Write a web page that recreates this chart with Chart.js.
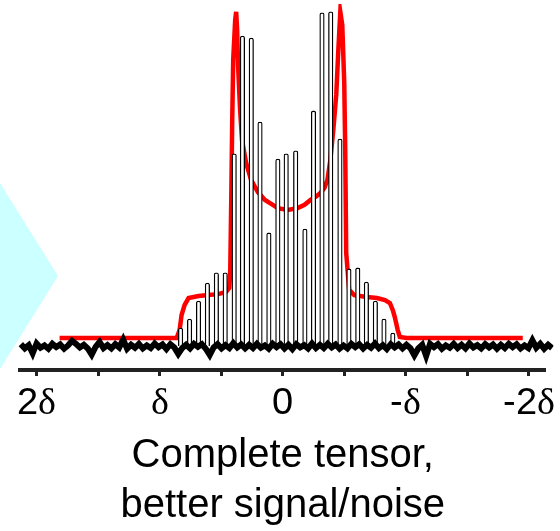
<!DOCTYPE html>
<html>
<head>
<meta charset="utf-8">
<script src="https://cdn.jsdelivr.net/npm/chart.js@4.4.1/dist/chart.umd.min.js"></script>
<style>
  html, body { margin: 0; padding: 0; background: #fff; }
  /* sans digits, serif delta, like the original figure */
  @font-face { font-family: 'AxisMix'; src: local('Liberation Sans'), local('LiberationSans'); }
  @font-face { font-family: 'AxisMix'; src: local('Liberation Serif'), local('LiberationSerif'); unicode-range: U+03B4; }
</style>
</head>
<body>
<canvas id="spectrum" width="560" height="531"></canvas>
<script>
// x is in units of delta (axis runs 2δ -> -2δ), y is arbitrary intensity
const staticX = [1.815, 0.863, 0.839, 0.823, 0.798, 0.766, 0.685, 0.605, 0.524, 0.460, 0.435, 0.427, 0.419, 0.411, 0.403, 0.387, 0.379, 0.371, 0.363, 0.347, 0.331, 0.298, 0.258, 0.202, 0.145, 0.081, 0.040, -0.040, -0.121, -0.177, -0.226, -0.266, -0.306, -0.339, -0.363, -0.387, -0.411, -0.435, -0.452, -0.468, -0.484, -0.500, -0.508, -0.516, -0.540, -0.581, -0.685, -0.766, -0.831, -0.871, -0.895, -0.911, -0.935, -0.952, -1.008, -1.952];
const staticY = [2.5, 2.5, 4.9, 9.5, 12.6, 14.7, 15.3, 15.6, 15.9, 16.6, 17.8, 23.3, 44.7, 69.2, 87.5, 99.7, 102.2, 96.7, 85.4, 72.2, 62.9, 56.0, 50.8, 47.1, 44.7, 43.2, 42.2, 41.6, 42.2, 43.2, 44.7, 45.6, 46.8, 48.4, 50.8, 56.9, 66.1, 76.8, 90.6, 102.2, 98.2, 80.5, 60.0, 28.5, 17.2, 15.6, 15.0, 14.7, 14.1, 13.2, 11.0, 8.9, 4.9, 2.8, 2.5, 2.5];

const sidebandX = [0.831, 0.758, 0.685, 0.613, 0.540, 0.468, 0.395, 0.328, 0.256, 0.185, 0.113, 0.040, -0.028, -0.105, -0.180, -0.250, -0.319, -0.390, -0.465, -0.538, -0.610, -0.680, -0.753, -0.823, -0.895];
const sidebandY = [5.5, 8.3, 13.8, 19.3, 22.4, 22.4, 58.8, 94.8, 94.2, 68.5, 34.6, 57.2, 58.8, 59.7, 35.8, 71.9, 101.9, 102.2, 63.3, 23.6, 23.9, 19.6, 13.8, 8.3, 4.0];

const noiseStart = 2.13;
const noiseStep = -0.032;
const noiseY = [
  0.6, -0.7, 0.3, -2.2, 0.8, -0.5, 0.2, -0.8, 0.7, -0.3,
  0.5, -0.8, 0.2, 1.6, 0.7, -0.4, 0.4, -0.7, -2.6, -0.2,
  1.3, -0.6, 0.3, -0.7, 0.6, -0.4, 2.0, -0.8, 0.4, -0.5,
  0.7, -0.7, 0.2, -0.6, 0.8, -0.3, 0.5, -0.9, 0.6, -0.4,
  -2.4, -0.6, 0.4, -0.7, 0.7, -0.2, 0.6, -0.8, -2.7, -0.4,
  0.6, -0.7, 0.3, -0.6, 0.9, -0.4, 0.5, -0.7, 0.4, -0.6,
  0.7, -0.5, 0.2, -0.8, 0.7, -0.3, 0.6, -0.7, 0.4, -0.9,
  0.6, -0.4, 0.3, -0.7, 0.8, -0.6, 0.4, -0.6, 0.7, -0.4,
  0.5, -0.8, 0.2, -0.7, 0.7, -0.3, 0.6, -0.7, 0.4, -0.5,
  0.8, -0.6, 0.3, -0.9, 0.6, -0.4, 0.5, -0.7, 0.4, -0.6,
  -2.8, -0.7, 0.4, -3.0, 0.7, -0.3, 0.6, -0.8, 0.2, -0.5,
  0.7, -0.6, 0.4, -0.7, 0.8, -0.4, 0.3, -0.7, 0.6, -0.4,
  0.5, -0.8, 0.4, -0.6, 0.7, -0.3, 0.6, -0.7, 0.2, -0.6,
  1.8, -0.5, 0.7, -0.8, 0.4, -0.6
];

const tickValues = [2, 1.5, 1, 0.5, 0, -0.5, -1, -1.5, -2];
const tickLabels = ['2δ', '', 'δ', '', '0', '', '-δ', '', '-2δ'];
const titleLines = ['Complete tensor,', 'better signal/noise'];

const staticPts = staticX.map((x, i) => ({ x: x, y: staticY[i] }));
const sidebandPts = sidebandX.map((x, i) => ({ x: x, y: sidebandY[i] }));
const noisePts = noiseY.map((y, i) => ({ x: noiseStart + i * noiseStep, y: y }));

const font = "'Liberation Sans', Arial, sans-serif";

// pale cyan arrow tip peeking in from the left edge
const arrowBg = {
  id: 'arrowBg',
  beforeDraw(chart) {
    const c = chart.ctx;
    c.save();
    c.fillStyle = '#ccffff';
    c.beginPath();
    c.moveTo(0, 183);
    c.lineTo(58, 276);
    c.lineTo(0, 369);
    c.closePath();
    c.fill();
    c.restore();
  }
};

function makeChart() {
  new Chart(document.getElementById('spectrum'), {
    type: 'bar',
    data: {
      datasets: [
        {
          type: 'line',
          label: 'noise',
          data: noisePts,
          borderColor: '#000',
          borderWidth: 6,
          pointRadius: 0,
          clip: 8,
          order: 0
        },
        {
          type: 'bar',
          label: 'sidebands',
          data: sidebandPts,
          backgroundColor: '#fff',
          borderColor: '#000',
          borderWidth: 1.3,
          barThickness: 4.5,
          borderRadius: { topLeft: 2, topRight: 2 },
          borderSkipped: 'bottom',
          order: 1
        },
        {
          type: 'line',
          label: 'static',
          data: staticPts,
          borderColor: '#ff0000',
          borderWidth: 4.5,
          pointRadius: 0,
          order: 2
        }
      ]
    },
    options: {
      responsive: false,
      animation: false,
      devicePixelRatio: 1,
      layout: { padding: { left: 20, right: 10, top: 4, bottom: 0 } },
      plugins: { legend: { display: false }, tooltip: { enabled: false } },
      scales: {
        x: {
          type: 'linear',
          reverse: true,
          offset: false,
          min: -2.137,
          max: 2.137,
          afterBuildTicks: s => { s.ticks = tickValues.map(v => ({ value: v })); },
          afterFit: s => { s.height = 161; },
          ticks: {
            autoSkip: false,
            maxRotation: 0,
            padding: 5,
            color: '#000',
            font: { family: "AxisMix, 'Liberation Sans', Arial, sans-serif", size: 38 },
            callback: (v, i) => tickLabels[i]
          },
          grid: { offset: false, drawOnChartArea: false, drawTicks: true, tickLength: 6, tickWidth: 3, tickColor: '#222' },
          border: { display: true, width: 4, color: '#222' },
          title: {
            display: true,
            text: titleLines,
            color: '#000',
            font: { family: font, size: 40, lineHeight: 1.25 },
            padding: { top: 0, bottom: 0 }
          }
        },
        y: { display: false, min: -7.3, max: 104.6 }
      }
    },
    plugins: [arrowBg]
  });
}

document.fonts.load('38px AxisMix', '2δ').then(makeChart, makeChart);
</script>
</body>
</html>
